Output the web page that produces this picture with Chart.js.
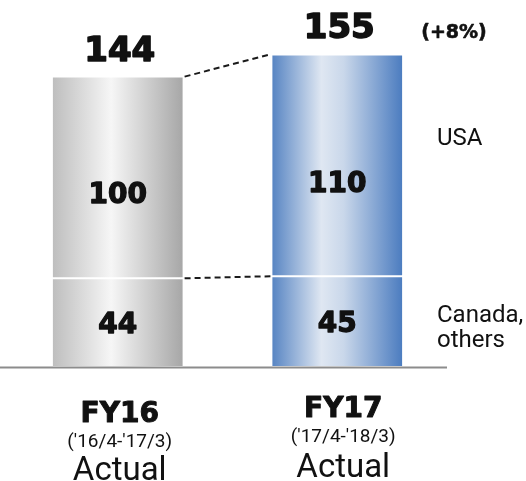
<!DOCTYPE html>
<html>
<head>
<meta charset="utf-8">
<script src="https://cdn.jsdelivr.net/npm/chart.js@4/dist/chart.umd.min.js"></script>
<style>
  html, body { margin: 0; padding: 0; background: #ffffff; }
  canvas { display: block; }
</style>
</head>
<body>
<canvas id="c" width="526" height="481"></canvas>
<script>
// Fiscal years and the regional split of sales (thousand units)
const years = ['FY16', 'FY17'];
const periods = ["('16/4-'17/3)", "('17/4-'18/3)"];
const status = ['Actual', 'Actual'];
const canadaOthers = [44, 45];
const usa = [100, 110];
const seriesNames = ['Canada,\nothers', 'USA'];

const totals = years.map((_, i) => canadaOthers[i] + usa[i]);
const growth = Math.round((totals[1] / totals[0] - 1) * 100);

const BAR_FRAC = 0.6;
const BOLD = '"DejaVu Sans", sans-serif';
const REG = 'Roboto, "Noto Sans", sans-serif';

// Horizontal gradient for each bar, following its own x span
const palettes = [
  [[0, '#bdbdbd'], [0.45, '#f6f6f6'], [1, '#a6a6a6']],
  [[0, '#5583c2'], [0.38, '#dfe7f2'], [0.55, '#c9d7ea'], [1, '#4a7bbf']]
];
function barFill(ctx) {
  const chart = ctx.chart;
  const xs = chart.scales.x;
  if (!chart.chartArea || !xs) return '#cccccc';
  const cx = xs.getPixelForValue(ctx.dataIndex);
  const half = (xs.width / years.length) * BAR_FRAC / 2;
  const g = chart.ctx.createLinearGradient(cx - half, 0, cx + half, 0);
  palettes[ctx.dataIndex].forEach(([o, c]) => g.addColorStop(o, c));
  return g;
}

// heavy text: fill plus a thin outline of the same colour
function heavyText(c, txt, x, y, w) {
  c.fillText(txt, x, y);
  c.lineWidth = w;
  c.lineJoin = 'round';
  c.strokeText(txt, x, y);
}

const decor = {
  id: 'decor',
  afterDatasetsDraw(chart) {
    const c = chart.ctx;
    const area = chart.chartArea;
    const lower = chart.getDatasetMeta(0).data;
    const upper = chart.getDatasetMeta(1).data;
    c.save();

    // baseline
    c.strokeStyle = '#8c8c8c';
    c.lineWidth = 2;
    c.beginPath();
    c.moveTo(0, area.bottom + 0.5);
    c.lineTo(area.right, area.bottom + 0.5);
    c.stroke();

    // dashed connectors between the bars
    c.strokeStyle = '#1a1a1a';
    c.lineWidth = 2;
    c.setLineDash([6, 4]);
    [[upper[0], upper[1]], [lower[0], lower[1]]].forEach(([a, b]) => {
      c.beginPath();
      c.moveTo(a.x + a.width / 2 + 1, a.y);
      c.lineTo(b.x - b.width / 2 - 1, b.y);
      c.stroke();
    });
    c.setLineDash([]);

    c.fillStyle = '#111111';
    c.strokeStyle = '#111111';
    c.textAlign = 'center';
    c.textBaseline = 'alphabetic';

    // values inside the segments
    c.font = 'bold 28px ' + BOLD;
    lower.forEach((el, i) => {
      const mid = (el.y + el.base) / 2;
      heavyText(c, String(canadaOthers[i]), el.x, mid + 10, 1.3);
    });
    upper.forEach((el, i) => {
      const pos = el.y + (el.base - el.y) * 0.575;
      heavyText(c, String(usa[i]), el.x, pos + 10, 1.3);
    });

    // totals above the bars
    c.font = 'bold 34px ' + BOLD;
    upper.forEach((el, i) => {
      heavyText(c, String(totals[i]), el.x + 2, el.y - 16, 1.6);
    });
    c.font = 'bold 19px ' + BOLD;
    heavyText(c, '(+' + growth + '%)', 454, upper[1].y - 16, 0.6);

    // series names on the right
    c.textAlign = 'left';
    c.font = '24px ' + REG;
    c.fillText(seriesNames[1], 437, 145);
    seriesNames[0].split('\n').forEach((line, k) => {
      c.fillText(line, 437, 322 + k * 25);
    });

    // category labels under the axis
    c.textAlign = 'center';
    const shifts = [0, -5];
    const offs = [2, 6];
    lower.forEach((el, i) => {
      const x = el.x + offs[i];
      const s = shifts[i];
      c.font = 'bold 28px ' + BOLD;
      heavyText(c, years[i], x, 422 + s, 1.0);
      c.font = '19px ' + REG;
      c.fillText(periods[i], x, 447 + s);
      c.font = '33px ' + REG;
      c.fillText(status[i], x, 480 + s * 0.6);
    });

    c.restore();
  }
};

const barStyle = {
  backgroundColor: barFill,
  borderColor: 'rgba(255,255,255,0.95)',
  borderWidth: 1,
  borderSkipped: false,
  barPercentage: BAR_FRAC,
  categoryPercentage: 1
};

new Chart(document.getElementById('c'), {
  type: 'bar',
  data: {
    labels: years,
    datasets: [
      Object.assign({ label: seriesNames[0], data: canadaOthers }, barStyle),
      Object.assign({ label: seriesNames[1], data: usa }, barStyle)
    ]
  },
  options: {
    responsive: false,
    animation: false,
    events: [],
    layout: { padding: { left: 8, right: 79, top: 4, bottom: 114 } },
    scales: {
      x: { stacked: true, display: false },
      y: { stacked: true, display: false, min: 0, max: 180 }
    },
    plugins: {
      legend: { display: false },
      tooltip: { enabled: false },
      colors: { enabled: false }
    }
  },
  plugins: [decor]
});
</script>
</body>
</html>
